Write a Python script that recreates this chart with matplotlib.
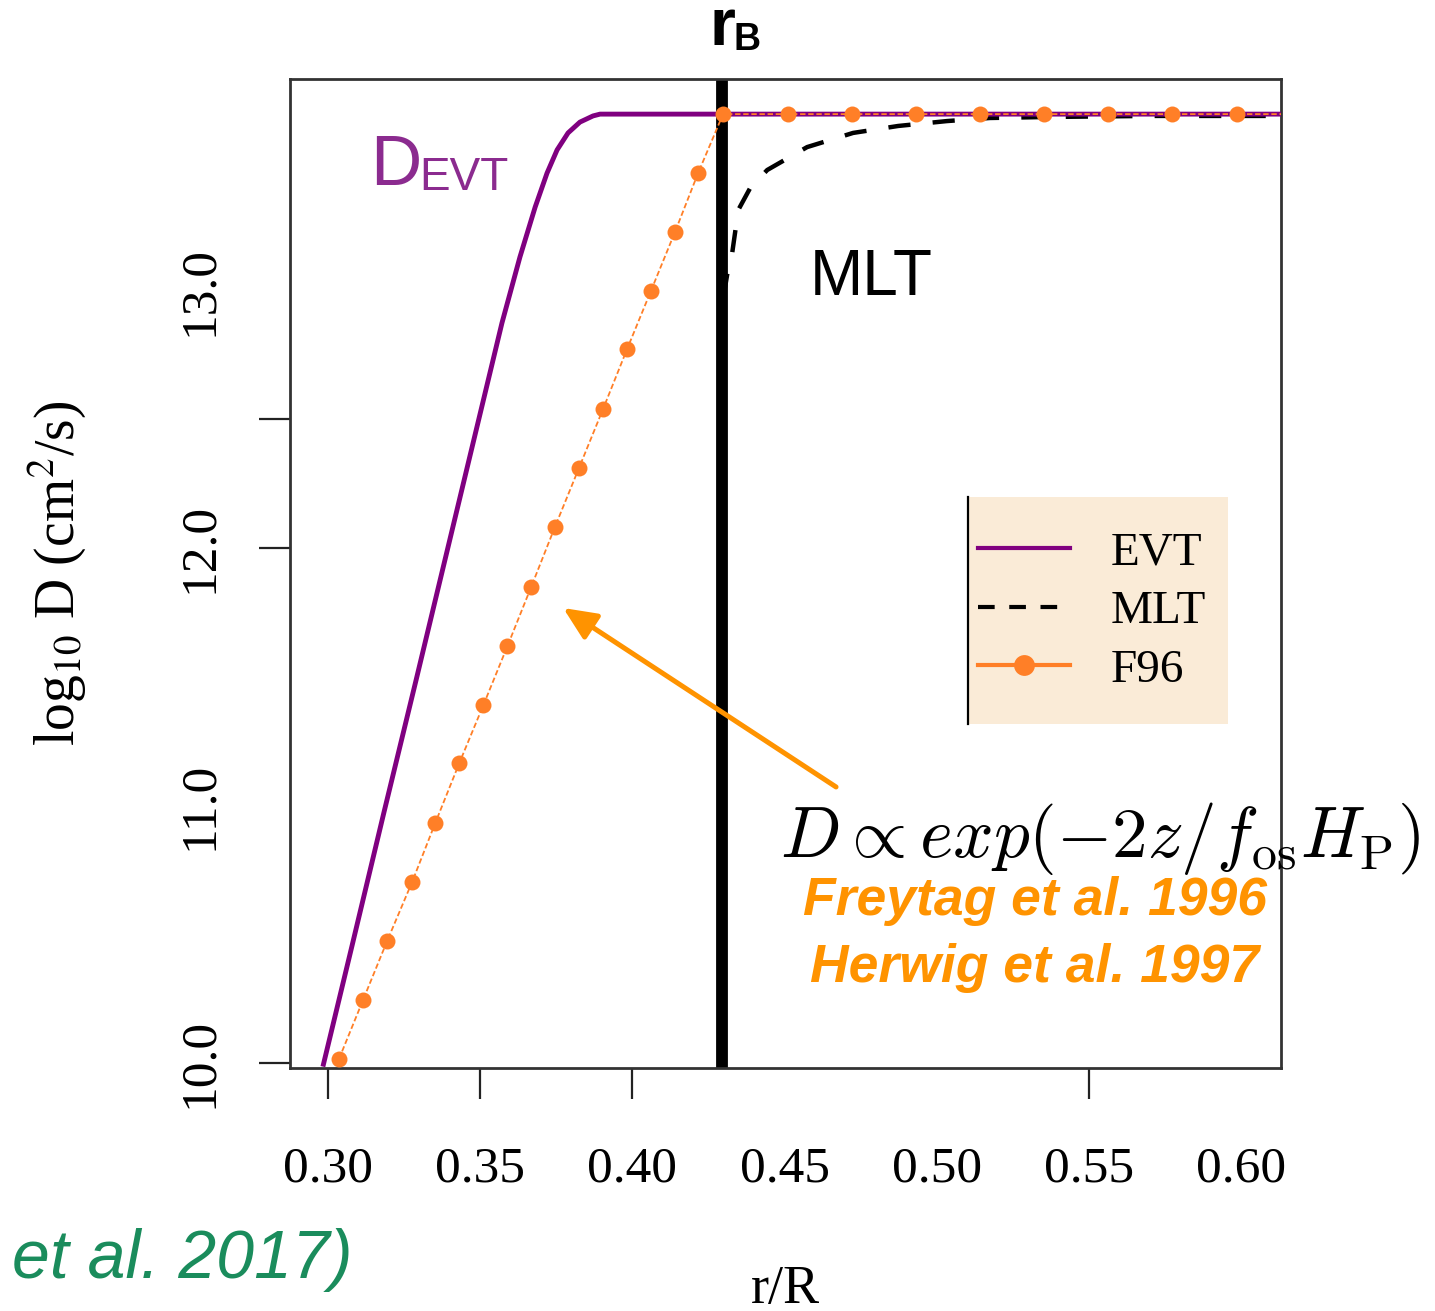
import matplotlib
matplotlib.use("Agg")
import matplotlib.pyplot as plt
from matplotlib.lines import Line2D
from matplotlib.patches import Rectangle

# diffusion coefficient profiles, log10 D against r/R
r_evt = [0.2984, 0.3079, 0.3184, 0.3290, 0.3369, 0.3466, 0.3572, 0.3631, 0.3681,
         0.3720, 0.3753, 0.3789, 0.3828, 0.3871, 0.3894, 0.6200]
d_evt = [9.986, 10.452, 10.971, 11.487, 11.876, 12.353, 12.874, 13.130, 13.324,
         13.456, 13.546, 13.612, 13.654, 13.678, 13.685, 13.685]

r_mlt = [0.4300, 0.4315, 0.4328, 0.4348, 0.4387, 0.4443, 0.4574, 0.4725, 0.4873,
         0.5033, 0.5174, 0.5371, 0.5700, 0.6200]
d_mlt = [12.980, 13.087, 13.146, 13.313, 13.398, 13.468, 13.557, 13.612, 13.639,
         13.658, 13.670, 13.674, 13.678, 13.678]

r_f96 = [0.3037, 0.3116, 0.3195, 0.3277, 0.3353, 0.3432, 0.3511, 0.3590, 0.3668,
         0.3746, 0.3825, 0.3904, 0.3983, 0.4061, 0.4140, 0.4216, 0.4298,
         0.4511, 0.4721, 0.4931, 0.5142, 0.5352, 0.5562, 0.5772, 0.5986, 0.6196]
d_f96 = [10.016, 10.245, 10.474, 10.703, 10.932, 11.165, 11.390, 11.619, 11.849,
         12.082, 12.311, 12.540, 12.773, 12.998, 13.227, 13.456, 13.685,
         13.685, 13.685, 13.685, 13.685, 13.685, 13.685, 13.685, 13.685, 13.685]

r_b = 0.4296

xticks = [0.30, 0.35, 0.40, 0.45, 0.50, 0.55, 0.60]
xticklabels = ["0.30", "0.35", "0.40", "0.45", "0.50", "0.55", "0.60"]
yticks = [10.0, 11.0, 12.0, 13.0]
yticklabels = ["10.0", "11.0", "12.0", "13.0"]

c_evt = "#800080"
c_f96 = "#ff7f27"
c_note = "#ff9300"

W, H = 1435, 1311
fig = plt.figure(figsize=(W / 100, H / 100), dpi=100)
ax = fig.add_axes([290 / W, 1 - 1068 / H, 991 / W, 989 / H])


def px(x, y):
    return x / W, 1 - y / H


ax.axvline(r_b, color="black", lw=8.5, zorder=2)
ax.plot(r_mlt, d_mlt, color="black", lw=3.2, dashes=(5, 5), zorder=3)
ax.plot(r_evt, d_evt, color=c_evt, lw=3.5, zorder=4, solid_capstyle="butt",
        solid_joinstyle="round")
ax.plot(r_f96, d_f96, color=c_f96, lw=1.3, dashes=(3, 1.5), marker="o",
        markersize=11.5, markeredgewidth=0, zorder=5)

ax.set_xlim(0.2876, 0.6130)
ax.set_ylim(9.9806, 13.8214)

serif = "Liberation Serif"
ax.set_xticks(xticks)
ax.set_xticklabels(xticklabels, family=serif, fontsize=37)
ax.set_yticks(yticks)
ax.set_yticklabels(yticklabels, family=serif, fontsize=37, rotation=90, va="center")
ax.set_yticks([12.5], minor=True)
ax.tick_params(axis="both", which="both", direction="out", length=22, width=1.6,
               color="#222222")
ax.tick_params(axis="x", pad=34)
ax.tick_params(axis="y", pad=26)
for i in (3, 4, 6):
    ax.xaxis.get_major_ticks()[i].tick1line.set_visible(False)
for i in (1, 3):
    ax.yaxis.get_major_ticks()[i].tick1line.set_visible(False)
for s in ax.spines.values():
    s.set_linewidth(2)
    s.set_color("#333333")

ax.set_xlabel("r/R", family=serif, fontsize=39, va="baseline")
ax.xaxis.set_label_coords(0.5, (1068 - 1303) / 989)
ax.set_ylabel("log$_{10}$ D (cm$^{2}$/s)", family=serif, fontsize=40,
              math_fontfamily="stix")
ax.yaxis.set_label_coords((88 - 290) / 991, 0.5)

# legend on a beige panel with a single left rule
ax.add_patch(Rectangle((0.684, 0.348), 0.263, 0.229, transform=ax.transAxes,
                       facecolor="#faebd7", edgecolor="none", zorder=6))
ax.add_line(Line2D([0.684, 0.684], [0.348, 0.577], transform=ax.transAxes,
                   color="black", lw=1.6, zorder=7))
handles = [
    Line2D([], [], color=c_evt, lw=3),
    Line2D([], [], color="black", lw=3, dashes=(4, 3.5)),
    Line2D([], [], color=c_f96, lw=3, marker="o", markersize=15, markeredgewidth=0),
]
leg = ax.legend(handles, ["EVT", "MLT", "F96"], loc="center left",
                bbox_to_anchor=((978 - 290) / 991, (1068 - 611.5) / 989),
                frameon=False, borderpad=0, borderaxespad=0, handlelength=1.95,
                handletextpad=0.85, labelspacing=0.33,
                prop={"family": serif, "size": 34})
leg.set_zorder(8)

ax.annotate("", xy=(0.3773, 11.767), xytext=(0.4669, 11.072),
            arrowprops=dict(arrowstyle="-|>,head_length=1.0,head_width=0.45",
                            color=c_note, lw=3.6, mutation_scale=20,
                            shrinkA=0, shrinkB=0), zorder=9)

sans = "Liberation Sans"
fig.text(*px(370, 185), "D", fontsize=51, color="#8b2b8f", family=sans, va="baseline")
fig.text(*px(419, 190), "EVT", fontsize=33, color="#8b2b8f", family=sans, va="baseline")
fig.text(*px(810, 295), "MLT", fontsize=46, color="black", family=sans, va="baseline")
fig.text(*px(709, 45), "r", fontsize=48, weight="bold", family=sans, va="baseline")
fig.text(*px(734, 50), "B", fontsize=27, weight="bold", family=sans, va="baseline")
fig.text(*px(780, 857), r"$D \propto exp(-2z/f_{\mathrm{os}}H_{\mathrm{P}})$",
         fontsize=51.3, math_fontfamily="cm", va="baseline")
fig.text(*px(803, 915), "Freytag et al. 1996", fontsize=38.5, color=c_note,
         family=sans, weight="bold", style="italic", va="baseline")
fig.text(*px(810, 982), "Herwig et al. 1997", fontsize=38.5, color=c_note,
         family=sans, weight="bold", style="italic", va="baseline")
fig.text(*px(12, 1278), "et al. 2017)", fontsize=49, color="#1a8c5c",
         family=sans, style="italic", va="baseline")

fig.savefig("out.png", dpi=100)
